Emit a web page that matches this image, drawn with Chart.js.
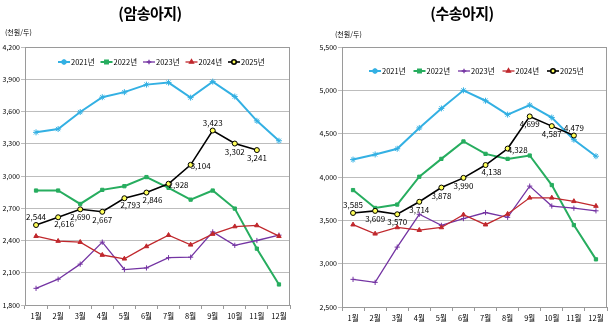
<!DOCTYPE html>
<html>
<head>
<meta charset="utf-8">
<script src="https://cdn.jsdelivr.net/npm/chart.js@4.4.1/dist/chart.umd.min.js"></script>
<style>
  html, body { margin:0; padding:0; background:#fff; }
  body { width:615px; height:330px; position:relative; overflow:hidden; font-family:"Liberation Sans Narrow","Noto Sans CJK KR",sans-serif; }
  .box { position:absolute; top:0; height:330px; }
  .title { position:absolute; top:2px; font-family:"Noto Sans CJK KR",sans-serif; font-weight:bold; font-size:15px; letter-spacing:-0.5px; color:#000; white-space:nowrap; transform:translateX(-50%); }
  .unit { position:absolute; font-family:"Noto Sans CJK KR",sans-serif; font-size:7px; color:#000; white-space:nowrap; }
</style>
</head>
<body>
<div class="box" id="leftBox" style="left:0;width:300px;"><canvas id="cLeft" width="300" height="330"></canvas></div>
<div class="box" id="rightBox" style="left:305px;width:310px;"><canvas id="cRight" width="310" height="330"></canvas></div>
<div class="title" style="left:150px;">(암송아지)</div>
<div class="title" style="left:462px;">(수송아지)</div>
<div class="unit" style="left:5px;top:27px;">(천원/두)</div>
<div class="unit" style="left:335px;top:29px;">(천원/두)</div>
<script>
// ---- Data ----
const months = ['1월','2월','3월','4월','5월','6월','7월','8월','9월','10월','11월','12월'];
const seriesNames = ['2021년','2022년','2023년','2024년','2025년'];

// 암송아지 (female calves), 천원/두
const female2021 = [3406, 3437, 3595, 3733, 3780, 3850, 3869, 3729, 3878, 3739, 3513, 3328];
const female2022 = [2865, 2865, 2740, 2871, 2905, 2990, 2890, 2780, 2865, 2697, 2324, 1991];
const female2023 = [1955, 2040, 2180, 2385, 2130, 2145, 2240, 2245, 2480, 2355, 2400, 2450];
const female2024 = [2440, 2395, 2385, 2265, 2230, 2345, 2450, 2360, 2460, 2530, 2540, 2440];
const female2025 = [2544, 2616, 2690, 2667, 2793, 2846, 2928, 3104, 3423, 3302, 3241, null];
const femaleTicks = [1800, 2100, 2400, 2700, 3000, 3300, 3600, 3900, 4200];

// 수송아지 (male calves), 천원/두
const male2021 = [4201, 4260, 4326, 4566, 4791, 5000, 4880, 4720, 4830, 4686, 4430, 4240];
const male2022 = [3849, 3643, 3682, 4003, 4209, 4410, 4267, 4209, 4248, 3907, 3445, 3050];
const male2023 = [2819, 2784, 3191, 3570, 3442, 3520, 3590, 3535, 3895, 3665, 3640, 3610];
const male2024 = [3450, 3345, 3418, 3387, 3418, 3565, 3450, 3573, 3760, 3760, 3720, 3665];
const male2025 = [3585, 3609, 3570, 3714, 3878, 3990, 4138, 4328, 4699, 4587, 4479, null];
const maleTicks = [2500, 3000, 3500, 4000, 4500, 5000, 5500];

// ---- Styles ----
const styles = [
  { color:'#33B0E3', fill:'#33B0E3', point:'star', radius:3, width:2 },
  { color:'#27AD5F', fill:'#27AD5F', point:'rect', radius:2.3, width:2 },
  { color:'#7434A3', fill:'#7434A3', point:'cross', radius:2.6, width:1.3 },
  { color:'#C0282D', fill:'#C0282D', point:'triangle', radius:2.6, width:1.3 },
  { color:'#000000', fill:'#FFFF5A', point:'circle', radius:2.5, width:1.6, border:'#000' }
];
const NUM_FONT = '"Liberation Sans Narrow","Noto Sans CJK KR",sans-serif';
const fmt = v => v.toLocaleString('en-US');

const boxPlugin = {
  id:'box',
  beforeDatasetsDraw(chart) {
    const a = chart.chartArea, c = chart.ctx;
    c.save(); c.strokeStyle = '#9a9a9a'; c.lineWidth = 1;
    c.strokeRect(Math.round(a.left)+0.5, Math.round(a.top)+0.5, Math.round(a.right-a.left)-1, Math.round(a.bottom-a.top));
    c.restore();
  }
};

const labelPlugin = {
  id:'vlabels',
  afterDatasetsDraw(chart, args, opts) {
    const c = chart.ctx;
    const meta = chart.getDatasetMeta(4);
    const data = chart.data.datasets[4].data;
    c.save();
    c.font = '8px ' + NUM_FONT; c.fillStyle = '#000'; c.textAlign = 'center'; c.textBaseline = 'middle';
    meta.data.forEach((pt, i) => {
      if (data[i] == null) return;
      const p = opts.place[i];
      let dx = 0, dy = 0;
      if (p === 'a') { dy = -8; }
      else if (p === 'b') { dy = 8; }
      else if (p === 'br') { dx = 6; dy = 7; }
      else if (p === 'r') { dx = 10; dy = 1; }
      c.fillText(fmt(data[i]), pt.x + dx, pt.y + dy);
    });
    c.restore();
  }
};

function drawMarker(c, st, x, y) {
  c.save();
  c.strokeStyle = st.color; c.lineWidth = st.width;
  c.beginPath(); c.moveTo(x-6, y); c.lineTo(x+6, y); c.stroke();
  Chart.helpers.drawPoint(c, { pointStyle: st.point, radius: st.radius * 0.9, rotation: 0, borderWidth: 1 }, x, y);
  c.restore();
}

const legendPlugin = {
  id:'inLegend',
  afterDraw(chart, args, opts) {
    const a = chart.chartArea, c = chart.ctx;
    const y = a.top + opts.dy;
    c.save();
    c.font = '7.5px ' + NUM_FONT; c.textBaseline = 'middle'; c.textAlign = 'left';
    seriesNames.forEach((n, i) => {
      const st = styles[i];
      const x = a.left + opts.start + i * opts.gap;
      c.fillStyle = st.fill; c.strokeStyle = st.border || st.color;
      drawMarker(c, st, x, y);
      c.fillStyle = '#000';
      c.fillText(n, x + 7, y + 0.5);
    });
    c.restore();
  }
};

function makeChart(canvasId, seriesData, ticks, layout, place, legend) {
  const datasets = seriesData.map((d, i) => {
    const st = styles[i];
    return {
      label: seriesNames[i], data: d,
      borderColor: st.color, borderWidth: st.width,
      backgroundColor: st.fill,
      pointStyle: st.point, pointRadius: st.radius, pointHoverRadius: st.radius,
      pointBackgroundColor: st.fill, pointBorderColor: st.border || st.color,
      pointBorderWidth: 1, tension: 0, spanGaps: false, order: 5 - i
    };
  });
  return new Chart(document.getElementById(canvasId), {
    type:'line',
    data:{ labels: months, datasets },
    options:{
      responsive:false, animation:false, devicePixelRatio:1,
      layout:{ padding:{ top:layout.top, right:layout.right, left:0, bottom:0 } },
      plugins:{ legend:{ display:false }, tooltip:{ enabled:false },
        vlabels:{ place }, inLegend: legend },
      scales:{
        x:{
          offset:true,
          grid:{ offset:true, drawOnChartArea:false, drawTicks:true, tickLength:4, color:'#9a9a9a' },
          border:{ display:true, color:'#9a9a9a' },
          ticks:{ font:{ size:7.5, family:NUM_FONT }, color:'#000', maxRotation:0, minRotation:0, padding:3 },
          afterFit(s){ s.height = layout.xh; }
        },
        y:{
          min: ticks[0], max: ticks[ticks.length-1],
          afterBuildTicks(s){ s.ticks = ticks.map(v => ({ value:v })); },
          grid:{ color:'#bdbdbd', drawTicks:true, tickLength:4, lineWidth:1 },
          border:{ display:true, color:'#9a9a9a' },
          ticks:{ font:{ size:7, family:NUM_FONT }, color:'#000', padding:1, callback:v => fmt(v) },
          afterFit(s){ s.width = layout.yw; }
        }
      }
    },
    plugins:[boxPlugin, labelPlugin, legendPlugin]
  });
}

makeChart('cLeft', [female2021, female2022, female2023, female2024, female2025], femaleTicks,
  { top:47, right:10, xh:25, yw:25 },
  ['a','br','b','b','br','br','r','r','a','b','b'],
  { dy:15, start:39, gap:42.5 });

makeChart('cRight', [male2021, male2022, male2023, male2024, male2025], maleTicks,
  { top:47, right:8, xh:23, yw:37 },
  ['a','b','b','b','b','b','br','r','b','b','a'],
  { dy:24, start:33, gap:44.5 });
</script>
</body>
</html>
